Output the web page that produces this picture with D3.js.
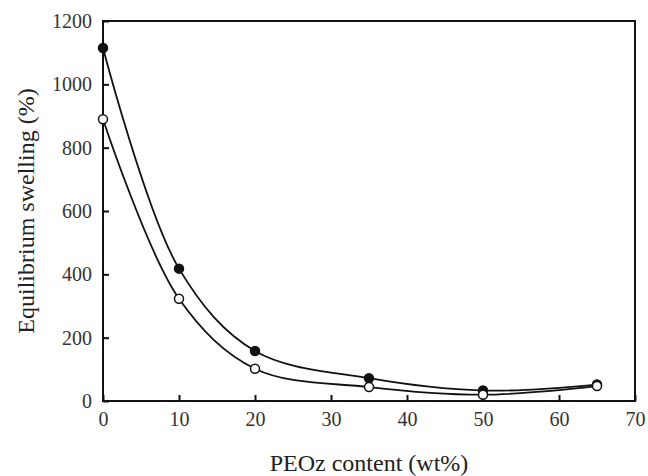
<!DOCTYPE html>
<html>
<head>
<meta charset="utf-8">
<script src="https://cdn.jsdelivr.net/npm/d3@7"></script>
<style>
  body { margin: 0; background: #fff; }
</style>
</head>
<body>
<script>
"use strict";

// data
const peozContent = [0, 10, 20, 35, 50, 65];
const swellingFilled = [1115, 418, 158, 72, 33, 52];
const swellingOpen = [890, 323, 102, 44, 20, 47];
const xTicks = [0, 10, 20, 30, 40, 50, 60, 70];
const yTicks = [0, 200, 400, 600, 800, 1000, 1200];

const W = 648, H = 476;
const margin = { top: 21, left: 103, right: 13, bottom: 75 };
const w = W - margin.left - margin.right;
const h = H - margin.top - margin.bottom;

const serif = '"Liberation Serif"';

const svg = d3.select('body').append('svg')
    .attr('width', W)
    .attr('height', H);

const g = svg.append('g')
    .attr('transform', 'translate(' + margin.left + ',' + margin.top + ')');

const x = d3.scaleLinear().domain([0, 70]).range([0, w]);
const y = d3.scaleLinear().domain([0, 1200]).range([h, 0]);

// frame
g.append('rect')
    .attr('width', w).attr('height', h)
    .attr('fill', 'none').attr('stroke', '#111').attr('stroke-width', 2);

// axes, ticks pointing inward
const xAxis = g.append('g')
    .attr('transform', 'translate(0,' + h + ')')
    .call(d3.axisBottom(x).tickValues(xTicks).tickFormat(d3.format('d'))
          .tickSizeInner(-6).tickSizeOuter(0).tickPadding(11));
const yAxis = g.append('g')
    .call(d3.axisLeft(y).tickValues(yTicks).tickFormat(d3.format('d'))
          .tickSizeInner(-6).tickSizeOuter(0).tickPadding(11));

[xAxis, yAxis].forEach((a) => {
    a.attr('font-family', null).attr('font-size', null);
    a.select('.domain').remove();
    a.selectAll('line').attr('stroke', '#111').attr('stroke-width', 2);
    a.selectAll('text')
        .style('font-family', serif)
        .style('font-size', '20px')
        .attr('fill', '#333');
});

// curves
const line = d3.line()
    .x((d) => x(d[0]))
    .y((d) => y(d[1]))
    .curve(d3.curveCatmullRom.alpha(0.5));

[swellingFilled, swellingOpen].forEach((s, k) => {
    const pts = peozContent.map((c, i) => [c, s[i]]);
    g.append('path')
        .datum(pts)
        .attr('d', line)
        .attr('fill', 'none')
        .attr('stroke', '#111')
        .attr('stroke-width', 1.8);
    g.selectAll('.pt' + k)
        .data(pts)
        .enter()
        .append('circle')
        .attr('cx', (d) => x(d[0]))
        .attr('cy', (d) => y(d[1]))
        .attr('r', 4.5)
        .attr('fill', k === 0 ? '#111' : '#fff')
        .attr('stroke', '#111')
        .attr('stroke-width', 1.5);
});

// axis titles
svg.append('text')
    .attr('x', margin.left + w / 2)
    .attr('y', 471)
    .attr('text-anchor', 'middle')
    .attr('fill', '#222')
    .style('font-family', serif)
    .style('font-size', '24px')
    .text('PEOz content (wt%)');

svg.append('text')
    .attr('transform', 'translate(34,' + (margin.top + h / 2) + ') rotate(-90)')
    .attr('text-anchor', 'middle')
    .attr('fill', '#222')
    .style('font-family', serif)
    .style('font-size', '24px')
    .text('Equilibrium swelling (%)');
</script>
</body>
</html>
